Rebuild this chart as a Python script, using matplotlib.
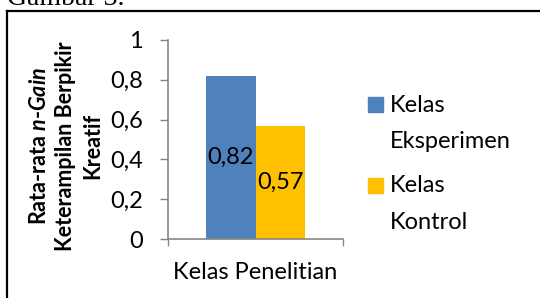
import matplotlib
matplotlib.use("Agg")
import matplotlib.pyplot as plt
from matplotlib.patches import Rectangle
from matplotlib.lines import Line2D

plt.rcParams['font.family'] = ['Lato', 'DejaVu Sans']
plt.rcParams['mathtext.fontset'] = 'custom'
plt.rcParams['mathtext.bfit'] = 'Lato:italic:bold'
plt.rcParams['mathtext.it'] = 'Lato:italic'

category = 'Kelas Penelitian'
series = ['Kelas\nEksperimen', 'Kelas\nKontrol']
values = [0.82, 0.57]
colors = ['#4F81BD', '#FFC000']
yticks = [0, 0.2, 0.4, 0.6, 0.8, 1]

W, H = 540, 298
fig = plt.figure(figsize=(W / 100, H / 100), dpi=100)

# frame of the chart area (only left and top visible)
fig.add_artist(Line2D([7 / W, 7 / W], [0, 1 - 11 / H], color='black', lw=1.6))
fig.add_artist(Line2D([7 / W, 1], [1 - 11 / H, 1 - 11 / H], color='black', lw=1.6))
fig.text(7 / W, 1 - 5 / H, 'Gambar 3.', family='Liberation Serif', fontsize=20,
         va='baseline', ha='left')

ax = fig.add_axes([168 / W, 1 - 239 / H, 175 / W, 199 / H])
bw = 0.284
xs = [-bw / 2, bw / 2]
bars = ax.bar(xs, values, width=bw, color=colors)
for b, v in zip(bars, values):
    ax.text(b.get_x() + b.get_width() / 2, v / 2, f'{v:.2f}'.replace('.', ','),
            ha='center', va='center', fontsize=17, color='black')

ax.set_xlim(-0.5, 0.5)
ax.set_ylim(0, 1)
ax.set_yticks(yticks)
ax.set_yticklabels([f'{t:g}'.replace('.', ',') for t in yticks], fontsize=17)
ax.set_xticks([-0.5, 0.5])
ax.set_xticklabels(['', ''])
ax.tick_params(axis='y', direction='out', length=6, width=1, color='#868686', pad=12)
ax.tick_params(axis='x', direction='out', length=5, width=1, color='#868686')
for s in ['top', 'right']:
    ax.spines[s].set_visible(False)
for s in ['left', 'bottom']:
    ax.spines[s].set_color('#868686')
    ax.spines[s].set_linewidth(1.2)
ax.text(0, -0.17, category, transform=ax.get_xaxis_transform(), ha='center', va='center',
        fontsize=17)

fig.text(66 / W, 1 - 146 / H,
         'Rata-rata $\\mathbfit{n}$-$\\mathbfit{Gain}$\nKeterampilan Berpikir\nKreatif',
         rotation=90, ha='center', va='center', multialignment='center',
         fontsize=15.5, fontweight='bold', linespacing=1.35)

# legend
ly = [104.5, 185.5]
for name, c, y in zip(series, colors, ly):
    fig.add_artist(Rectangle((368 / W, 1 - (y + 7.5) / H), 15 / W, 15 / H,
                             transform=fig.transFigure, color=c))
    fig.text(390 / W, 1 - (y - 10) / H, name, ha='left', va='top', fontsize=17,
             linespacing=1.9)

fig.savefig('out.png', dpi=100)
